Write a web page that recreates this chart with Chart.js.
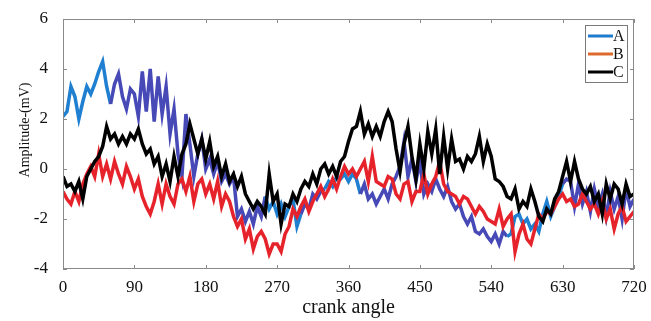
<!DOCTYPE html>
<html>
<head>
<meta charset="utf-8">
<script src="https://cdn.jsdelivr.net/npm/chart.js@4"></script>
<style>
html,body{margin:0;padding:0;background:#fff;}
#wrap{width:651px;height:321px;}
</style>
</head>
<body>
<div id="wrap"><canvas id="c" width="651" height="321"></canvas></div>
<script>
const seriesNames = ['A', 'B', 'C'];
const xTicks = [0, 90, 180, 270, 360, 450, 540, 630, 720];
const yTicks = [-4, -2, 0, 2, 4, 6];
const xTitle = 'crank angle';
const yTitle = 'Amplitude-(mV)';
const angleStep = 5;

const seriesA = [
  2.1, 2.3, 3.3, 2.9, 2.0, 2.7, 3.3, 3.0, 3.4, 3.9,
  4.3, 3.3, 2.6, 3.4, 3.8, 2.9, 2.4, 3.2, 3.0, 2.1,
  3.9, 2.3, 4.0, 1.9, 3.7, 2.2, 3.3, 1.4, 2.4, 0.6,
  -0.3, 2.2, 1.0, -0.3, 0.6, 1.2, 0.0, 0.4, -0.2, 0.3,
  -0.5, -0.2, -0.6, -0.3, -1.9, -1.6, -2.1, -1.7, -2.2, -1.5,
  -1.9, -1.1, -1.6, -1.3, -1.8, -1.4, -1.9, -1.5, -1.2, -2.3,
  -1.8, -1.4, -1.6, -1.0, -1.2, -0.9, -0.8, -0.5, -0.7, -0.3,
  -0.4, -0.2, -0.5, -0.2, -0.4, -1.0, -0.6, -1.2, -1.0, -1.4,
  -1.1, -0.8, -1.2, -0.6, -0.3, 0.1, 1.1, -0.3, 0.4, -0.5,
  0.3, -1.0, -0.6, -0.9, -0.4, -0.8, -1.1, -0.7, -1.3, -1.6,
  -1.4, -1.9, -2.2, -1.9, -2.5, -2.6, -2.4, -2.7, -2.9, -2.6,
  -3.0, -2.5, -2.7, -2.6, -1.9, -1.8, -2.2, -2.0, -2.4, -2.2,
  -2.5, -1.8, -1.3, -1.9, -1.5, -1.1, -0.6, -0.4, -0.5, -1.5,
  -0.6, -1.4, -0.9, -1.7, -0.8, -1.5, -1.0, -1.9, -0.9, -1.6,
  -1.1, -2.0, -0.8, -1.5, -1.2
];

const seriesB = [
  -0.9, -1.2, -1.4, -0.9, -1.3, -0.6, -0.2, 0.1, -0.3, 0.6,
  -0.3, 0.2, -0.4, 0.3, -0.2, -0.6, 0.1, -0.3, -0.8, -0.4,
  -1.1, -1.5, -1.8, -1.3, -0.6, -1.4, -0.6, -1.1, -1.4, -0.6,
  -0.4, -0.9, -0.3, -1.3, -0.6, -0.4, -1.0, -0.6, -1.2, -0.5,
  -1.5, -1.0, -1.3, -1.9, -2.3, -2.0, -2.8, -2.4, -3.2, -2.7,
  -2.5, -2.8, -3.4, -3.0, -3.0, -3.3, -2.6, -2.3, -1.6, -1.9,
  -1.5, -1.2, -1.7, -1.3, -1.0, -0.7, -1.1, -0.8, -0.4, -0.8,
  -0.3, 0.1, -0.2, 0.0, -0.3, 0.0, 0.3, -0.5, 0.5, -0.5,
  -0.6, -0.7, -0.3, -0.4, -1.0, -1.2, -0.6, -0.5, -1.3, -0.9,
  -0.9, -0.2, -1.0, -0.6, -0.3, 0.3, -0.6, -0.9, -1.0, -1.1,
  -1.4, -1.1, -1.2, -1.5, -1.8, -1.5, -1.7, -2.0, -2.1, -2.2,
  -1.6, -2.3, -2.0, -1.8, -3.3, -2.6, -2.2, -2.8, -3.0, -2.4,
  -1.8, -2.0, -1.7, -1.8, -1.5, -1.2, -1.0, -1.3, -1.2, -1.5,
  -1.4, -1.0, -1.3, -1.6, -1.4, -1.8, -1.3, -2.0, -1.6, -2.4,
  -1.8, -1.5, -2.1, -1.9, -1.7
];

const seriesC = [
  -0.3, -0.7, -0.6, -0.9, -0.5, -1.2, -0.3, 0.0, 0.3, 0.5,
  0.9, 1.7, 1.2, 1.4, 1.0, 1.3, 1.0, 1.4, 1.2, 1.6,
  1.0, 0.6, 0.8, 0.2, 0.5, -0.3, 0.2, -0.5, 0.5, -0.3,
  0.6, 1.0, 1.8, 1.2, 0.6, 1.2, 0.4, 1.1, 0.1, 0.5,
  -0.3, 0.2, -0.5, -0.2, -0.7, -0.3, -1.0, -1.3, -1.6, -1.3,
  -1.5, -1.8, -0.2, -1.3, -1.0, -2.2, -1.4, -1.5, -1.0, -1.3,
  -0.8, -0.5, -0.7, -0.2, -0.6, 0.0, 0.2, -0.2, 0.1, -0.3,
  0.3, 0.5, 1.1, 1.6, 1.7, 2.3, 1.4, 1.8, 1.3, 1.7,
  1.3, 1.9, 2.3, 1.9, 0.8, -0.1, 1.0, 1.7, 0.5, -0.4,
  1.0, 0.0, 1.5, 0.6, 1.6, -0.2, 1.3, 0.0, 1.2, 0.3,
  0.4, 0.0, 0.5, 0.3, 0.6, 1.3, 0.3, 1.0, 0.5, -0.4,
  -0.5, -0.7, -1.1, -1.2, -0.8, -1.6, -1.3, -1.5, -0.8, -1.3,
  -1.9, -2.1, -1.6, -1.8, -1.2, -0.9, -0.3, 0.3, -0.5, 0.3,
  -0.4, -0.8, -1.0, -0.7, -1.3, -1.0, -1.8, -0.6, -1.2, -0.6,
  -0.8, -1.4, -0.6, -1.1, -1.0
];

const angles = seriesA.map((_, i) => i * angleStep);
const toPoints = arr => arr.map((v, i) => ({x: angles[i], y: v}));

const legendColors = ['#1f7bcc', '#dd6a2c', '#000000'];
const blueBright = '#1f7fd0';
const bluePurple = '#4649b6';
const FONT = '"Liberation Serif", serif';

function aColor(ctx) {
  const x = ctx.p0.parsed.x;
  if (x < 60 || (x >= 255 && x < 300) || (x >= 330 && x < 375) || (x >= 560 && x < 630)) return blueBright;
  return bluePurple;
}

const framePlugin = {
  id: 'frame',
  afterDraw(chart) {
    const {ctx, chartArea: a, scales} = chart;
    ctx.save();
    ctx.strokeStyle = '#8a8a8a';
    ctx.lineWidth = 1;
    ctx.strokeRect(a.left + 0.5, a.top + 0.5, a.right - a.left - 1, a.bottom - a.top - 1);
    const tl = 4;
    ctx.beginPath();
    xTicks.forEach(t => {
      const px = Math.round(scales.x.getPixelForValue(t)) + 0.5;
      ctx.moveTo(px, a.bottom); ctx.lineTo(px, a.bottom - tl);
      ctx.moveTo(px, a.top); ctx.lineTo(px, a.top + tl);
    });
    yTicks.forEach(t => {
      const py = Math.round(scales.y.getPixelForValue(t)) + 0.5;
      ctx.moveTo(a.left, py); ctx.lineTo(a.left + tl, py);
      ctx.moveTo(a.right, py); ctx.lineTo(a.right - tl, py);
    });
    ctx.stroke();

    // axis titles
    ctx.fillStyle = '#111';
    ctx.textAlign = 'center';
    ctx.textBaseline = 'middle';
    ctx.font = '20px ' + FONT;
    ctx.fillText(xTitle, (a.left + a.right) / 2, 308);
    ctx.save();
    ctx.translate(25, 130);
    ctx.rotate(-Math.PI / 2);
    ctx.font = '14px ' + FONT;
    ctx.fillText(yTitle, 0, 0);
    ctx.restore();

    // legend box
    const bx = a.right - 49, by = a.top + 6, bw = 42, bh = 57;
    ctx.fillStyle = '#ffffff';
    ctx.fillRect(bx, by, bw, bh);
    ctx.strokeStyle = '#7a7a7a';
    ctx.strokeRect(bx + 0.5, by + 0.5, bw, bh);
    ctx.font = '16px ' + FONT;
    ctx.textBaseline = 'middle';
    ctx.textAlign = 'left';
    seriesNames.forEach((n, i) => {
      const y = by + 11 + i * 18;
      ctx.strokeStyle = legendColors[i];
      ctx.lineWidth = 3;
      ctx.beginPath();
      ctx.moveTo(bx + 3, y); ctx.lineTo(bx + 28, y);
      ctx.stroke();
      ctx.fillStyle = '#111';
      ctx.fillText(n, bx + 28, y + 1);
    });
    ctx.restore();
  }
};

new Chart(document.getElementById('c'), {
  type: 'line',
  data: {
    datasets: [
      {label: seriesNames[0], data: toPoints(seriesA), borderColor: bluePurple, segment: {borderColor: aColor}, borderWidth: 3.5, pointRadius: 0, tension: 0, order: 2},
      {label: seriesNames[1], data: toPoints(seriesB), borderColor: '#e6232b', borderWidth: 3.5, pointRadius: 0, tension: 0, order: 1},
      {label: seriesNames[2], data: toPoints(seriesC), borderColor: '#000000', borderWidth: 3.5, pointRadius: 0, tension: 0, order: 0}
    ]
  },
  options: {
    responsive: false,
    animation: false,
    layout: {padding: {left: 0, right: 17, top: 19, bottom: 0}},
    plugins: {legend: {display: false}, tooltip: {enabled: false}},
    scales: {
      x: {
        type: 'linear', min: 0, max: 720,
        afterBuildTicks: s => { s.ticks = xTicks.map(v => ({value: v})); },
        afterFit: s => { s.height = 52; },
        grid: {display: false},
        border: {display: false},
        ticks: {color: '#111', padding: 0, maxRotation: 0, font: {family: FONT, size: 17}},
        title: {display: false}
      },
      y: {
        min: -4, max: 6,
        afterBuildTicks: s => { s.ticks = yTicks.map(v => ({value: v})); },
        afterFit: s => { s.width = 63; },
        grid: {display: false},
        border: {display: false},
        ticks: {color: '#111', padding: 7, font: {family: FONT, size: 17}},
        title: {display: false}
      }
    }
  },
  plugins: [framePlugin]
});
</script>
</body>
</html>
